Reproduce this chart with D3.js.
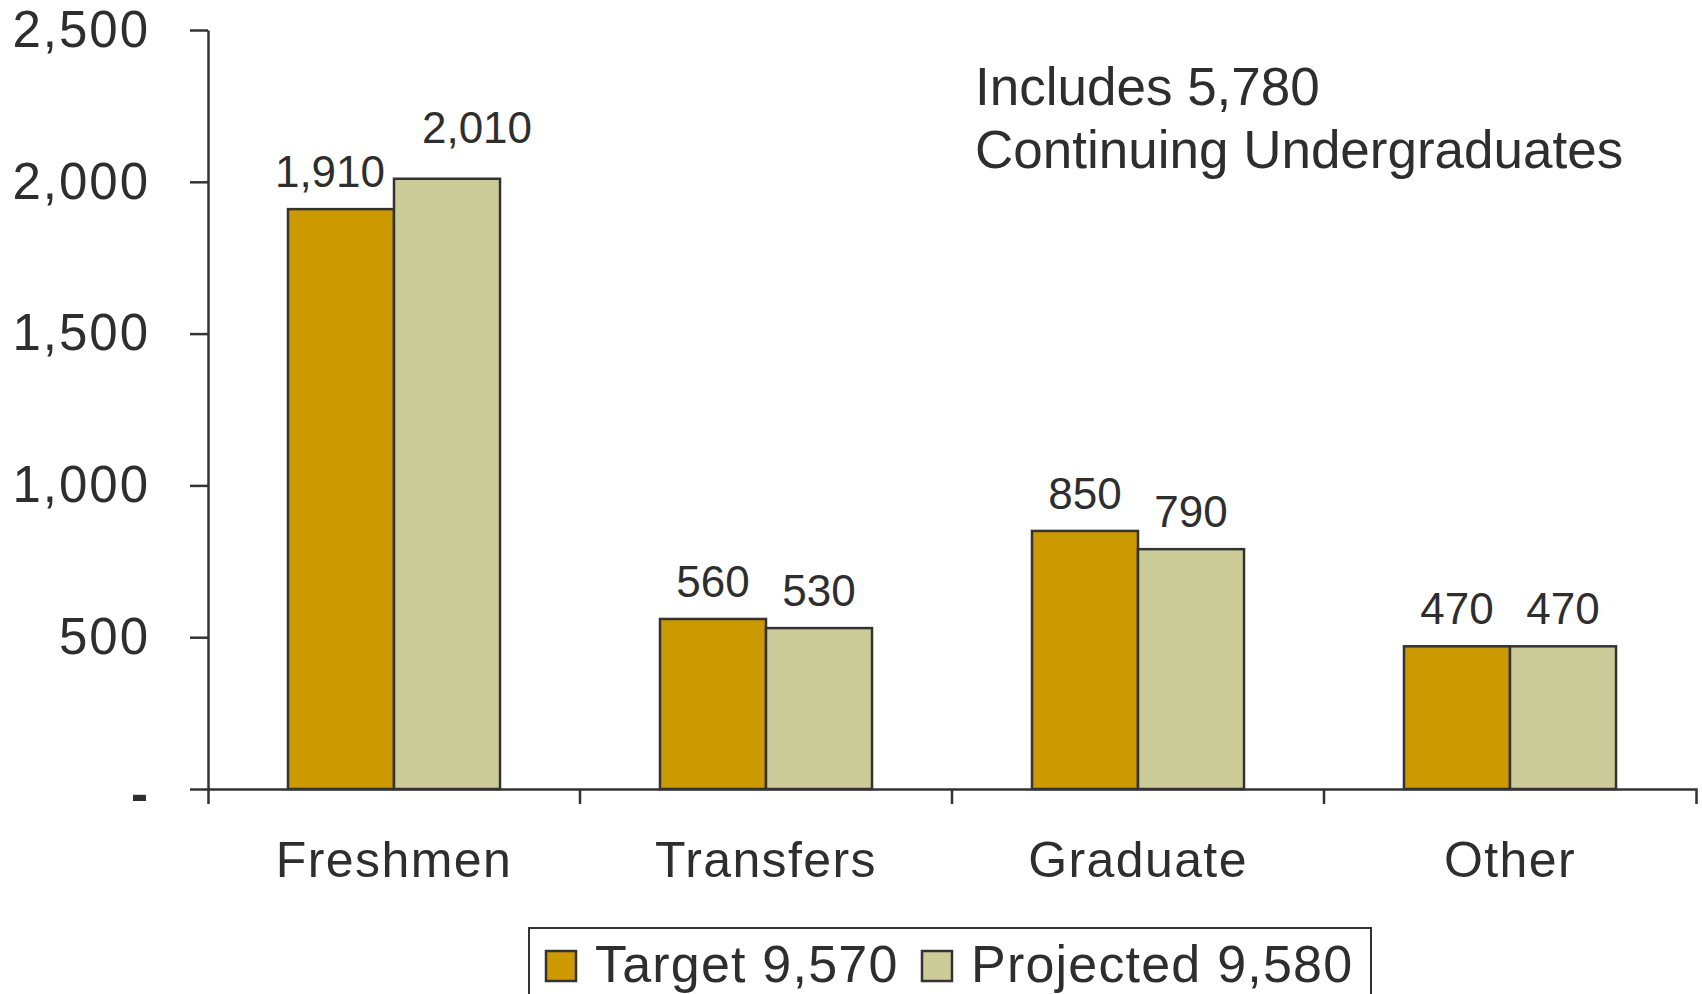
<!DOCTYPE html>
<html>
<head>
<meta charset="utf-8">
<script src="https://cdn.jsdelivr.net/npm/d3@7"></script>
<style>
  html, body { margin: 0; padding: 0; background: #fff; }
  svg { display: block; font-family: "Liberation Sans", Arial, sans-serif; }
</style>
</head>
<body>
<div id="chart"></div>
<script>
const categories = ['Freshmen', 'Transfers', 'Graduate', 'Other'];
const seriesNames = ['Target 9,570', 'Projected 9,580'];
const targetValues = [1910, 560, 850, 470];
const projectedValues = [2010, 530, 790, 470];
const yTicks = [0, 500, 1000, 1500, 2000, 2500];
const noteLines = ['Includes 5,780', 'Continuing Undergraduates'];

const W = 1702, H = 994;
const textColor = '#2e2e2e';
const lineColor = '#333333';
const colors = ['#cc9900', '#cccc99'];

// excel nudged the two freshmen labels apart
const labelNudge = { Freshmen: [[-11, 0], [30, -14]] };

const svg = d3.select('#chart').append('svg')
  .attr('width', W)
  .attr('height', H);

const x = d3.scaleBand()
  .domain(categories)
  .range([208, 1696])
  .padding(0);

const gap = x.bandwidth() * 0.215;
const x1 = d3.scaleBand()
  .domain([0, 1])
  .range([gap, x.bandwidth() - gap])
  .padding(0);

const y = d3.scaleLinear()
  .domain([0, 2500])
  .range([789, 30]);

const rows = categories.map((c, i) => ({
  cat: c,
  vals: [targetValues[i], projectedValues[i]]
}));

// bars
const groups = svg.append('g').selectAll('g')
  .data(rows)
  .enter()
  .append('g')
    .attr('transform', d => `translate(${x(d.cat)},0)`);

groups.selectAll('rect')
  .data(d => d.vals.map((v, s) => ({ v, s, cat: d.cat })))
  .enter()
  .append('rect')
    .attr('x', d => x1(d.s))
    .attr('y', d => y(d.v))
    .attr('width', x1.bandwidth())
    .attr('height', d => y(0) - y(d.v))
    .attr('fill', d => colors[d.s])
    .attr('stroke', lineColor)
    .attr('stroke-width', 2.5);

groups.selectAll('text')
  .data(d => d.vals.map((v, s) => ({ v, s, cat: d.cat })))
  .enter()
  .append('text')
    .attr('x', d => x1(d.s) + x1.bandwidth() / 2 + (labelNudge[d.cat] ? labelNudge[d.cat][d.s][0] : 0))
    .attr('y', d => y(d.v) - 22 + (labelNudge[d.cat] ? labelNudge[d.cat][d.s][1] : 0))
    .attr('text-anchor', 'middle')
    .style('font-size', '44px')
    .style('fill', textColor)
    .text(d => d3.format(',')(d.v));

// y axis
const yAxis = svg.append('g')
  .attr('transform', 'translate(208,0)')
  .call(d3.axisLeft(y)
    .tickValues(yTicks)
    .tickSizeInner(18)
    .tickSizeOuter(0)
    .tickPadding(40)
    .tickFormat(d => d === 0 ? '-' : d3.format(',')(d)));

yAxis.selectAll('text')
  .style('font-size', '51px')
  .style('letter-spacing', '2px')
  .style('fill', textColor)
  .style('font-family', '"Liberation Sans", Arial, sans-serif');
yAxis.selectAll('text').filter(d => d === 0)
  .style('font-weight', 'bold')
  .attr('dy', '0.42em');

// x axis
const xAxis = svg.append('g')
  .attr('transform', `translate(0,${y(0)})`)
  .call(d3.axisBottom(x)
    .tickSizeInner(0)
    .tickSizeOuter(15)
    .tickPadding(52));

xAxis.selectAll('text')
  .style('font-size', '50px')
  .style('letter-spacing', '1.4px')
  .style('fill', textColor)
  .style('font-family', '"Liberation Sans", Arial, sans-serif');

// boundary ticks between categories
xAxis.selectAll('.bound')
  .data(categories.slice(1))
  .enter()
  .append('line')
    .attr('class', 'bound')
    .attr('x1', d => x(d))
    .attr('x2', d => x(d))
    .attr('y1', 0)
    .attr('y2', 15);

svg.selectAll('.domain, .tick line, .bound')
  .attr('stroke', lineColor)
  .attr('stroke-width', 2.5);

// note
svg.append('text')
  .attr('x', 975)
  .attr('y', 105)
  .style('font-size', '53px')
  .style('fill', textColor)
  .selectAll('tspan')
  .data(noteLines)
  .enter()
  .append('tspan')
    .attr('x', 975)
    .attr('dy', (d, i) => i === 0 ? 0 : 63)
    .text(d => d);

// legend
const legend = svg.append('g');
legend.append('rect')
  .attr('x', 529)
  .attr('y', 928)
  .attr('width', 842)
  .attr('height', 120)
  .attr('fill', '#fff')
  .attr('stroke', lineColor)
  .attr('stroke-width', 2);

const legendX = [546, 922];
seriesNames.forEach((name, i) => {
  legend.append('rect')
    .attr('x', legendX[i])
    .attr('y', 951)
    .attr('width', 30)
    .attr('height', 30)
    .attr('fill', colors[i])
    .attr('stroke', lineColor)
    .attr('stroke-width', 2.5);
  legend.append('text')
    .attr('x', legendX[i] + 49)
    .attr('y', 982)
    .style('font-size', '52px')
    .style('letter-spacing', '1.2px')
    .style('fill', textColor)
    .text(name);
});
</script>
</body>
</html>
